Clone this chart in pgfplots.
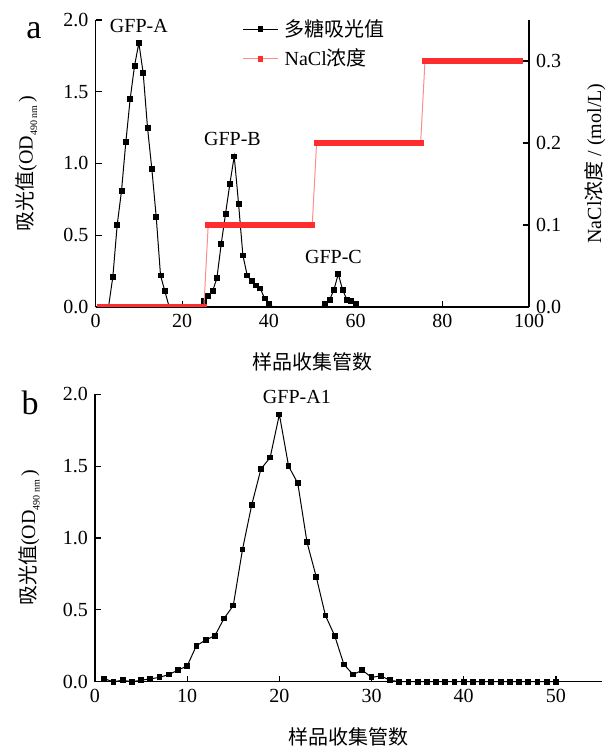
\documentclass[border=0pt]{standalone}
\usepackage{pgfplots}
\pgfplotsset{compat=1.18}
\usepackage{pgfplotstable}
\usepackage{fontspec}
\setmainfont{Liberation Serif}
\newfontfamily\cjk{Noto Sans CJK SC}
\definecolor{nacl}{RGB}{255,45,45}
\definecolor{nacllight}{RGB}{255,140,140}

% top panel, polysaccharide absorbance per tube (zeros carry the line only)
\pgfplotstableread{
x y
0 0
3 0
4 0.21
5 0.57
6 0.81
7 1.15
8 1.45
9 1.68
10 1.84
11 1.63
12 1.25
13 0.96
14 0.63
15 0.22
16 0.11
17 0
24 0
25 0.04
26 0.08
27 0.11
28 0.20
29 0.44
30 0.65
31 0.86
32 1.05
33 0.72
34 0.36
35 0.22
36 0.18
37 0.15
38 0.13
39 0.06
40 0.02
41 0
52 0
53 0.02
54 0.05
55 0.12
56 0.23
57 0.12
58 0.05
59 0.04
60 0.02
61 0
100 0
}\topdata

% bottom panel, GFP-A1
\pgfplotstableread{
x y
1 0.02
2 0.00
3 0.01
4 0.00
5 0.01
6 0.02
7 0.03
8 0.05
9 0.08
10 0.11
11 0.25
12 0.29
13 0.32
14 0.44
15 0.53
16 0.92
17 1.23
18 1.48
19 1.56
20 1.86
21 1.50
22 1.38
23 0.97
24 0.73
25 0.46
26 0.32
27 0.12
28 0.05
29 0.08
30 0.03
31 0.04
32 0.01
33 0
34 0
35 0
36 0
37 0
38 0
39 0
40 0
41 0
42 0
43 0
44 0
45 0
46 0
47 0
48 0
49 0
50 0
}\botdata

\begin{document}
\begin{tikzpicture}[font=\fontsize{10}{12}\selectfont]
\path[use as bounding box] (0,0) rectangle (303.5pt,373.5pt);
\pgfplotsset{
  every axis/.append style={
    scale only axis,
    clip=false,
    tick align=inside,
    major tick length=3pt,
    axis line style={line width=0.75pt, -},
    every tick/.style={line width=0.6pt, black},
    tick label style={font=\fontsize{10}{12}\selectfont, /pgf/number format/assume math mode=true},
    label style={font=\fontsize{10}{12}\selectfont},
  },
  onedec/.style={/pgf/number format/fixed, /pgf/number format/precision=1, /pgf/number format/fixed zerofill},
}

% ---- panel a, left axis
\begin{axis}[
  at={(47.75pt,220pt)}, anchor=south west,
  width=216.75pt, height=143.5pt,
  xmin=0, xmax=100, ymin=0, ymax=2,
  axis x line*=bottom, axis y line*=left,
  xtick={0,20,...,100}, ytick={0,0.5,1,1.5,2},
  yticklabel style={onedec},
  xlabel={\cjk 样品收集管数},
  xlabel style={at={(axis description cs:0.5,-0.193)}, anchor=center},
  ylabel={{\cjk 吸光值}(OD\raisebox{-0.5ex}{\fontsize{5}{6}\selectfont 490 nm}\,)},
  ylabel style={at={(axis description cs:-0.159,0.5)}, anchor=center},
]
\addplot[black, line width=0.5pt, forget plot] table {\topdata};
\addplot[black, only marks, mark=square*, mark size=1.2pt, restrict y to domain=0.005:5, forget plot] table {\topdata};
\node at (axis cs:10,1.958) {GFP-A};
\node at (axis cs:31.6,1.171) {GFP-B};
\node at (axis cs:54.9,0.35) {GFP-C};
\end{axis}

% ---- panel a, right axis (NaCl gradient)
\begin{axis}[
  at={(47.75pt,220pt)}, anchor=south west,
  width=216.75pt, height=143.5pt,
  xmin=0, xmax=100, ymin=0, ymax=0.35,
  clip=true, clip marker paths=true,
  axis x line=none, axis y line*=right,
  ytick={0,0.1,0.2,0.3},
  yticklabel style={onedec},
  ylabel={NaCl{\cjk 浓度} / (mol/L)},
  ylabel style={at={(axis description cs:1.152,0.5)}, anchor=center},
  legend cell align=left,
  legend style={draw=none, fill=none, at={(axis description cs:0.339,1.02)}, anchor=north west,
    inner sep=0pt, row sep=0pt, nodes={inner ysep=2.4pt, inner xsep=3.3pt}, font=\fontsize{10}{12}\selectfont},
]
\addlegendimage{black, line width=0.5pt, mark=square*, mark size=1.2pt}
\addlegendentry{\cjk 多糖吸光值}
\addplot[nacllight, line width=0.5pt, mark=square*, mark size=1.2pt, mark options={draw=nacl, fill=nacl}]
  table[row sep=\\] {
x y\\
1 0\\ 2 0\\ 3 0\\ 4 0\\ 5 0\\ 6 0\\ 7 0\\ 8 0\\ 9 0\\ 10 0\\
11 0\\ 12 0\\ 13 0\\ 14 0\\ 15 0\\ 16 0\\ 17 0\\ 18 0\\ 19 0\\ 20 0\\
21 0\\ 22 0\\ 23 0\\ 24 0\\ 25 0\\
26 0.1\\ 27 0.1\\ 28 0.1\\ 29 0.1\\ 30 0.1\\ 31 0.1\\ 32 0.1\\ 33 0.1\\ 34 0.1\\ 35 0.1\\
36 0.1\\ 37 0.1\\ 38 0.1\\ 39 0.1\\ 40 0.1\\ 41 0.1\\ 42 0.1\\ 43 0.1\\ 44 0.1\\ 45 0.1\\
46 0.1\\ 47 0.1\\ 48 0.1\\ 49 0.1\\ 50 0.1\\
51 0.2\\ 52 0.2\\ 53 0.2\\ 54 0.2\\ 55 0.2\\ 56 0.2\\ 57 0.2\\ 58 0.2\\ 59 0.2\\ 60 0.2\\
61 0.2\\ 62 0.2\\ 63 0.2\\ 64 0.2\\ 65 0.2\\ 66 0.2\\ 67 0.2\\ 68 0.2\\ 69 0.2\\ 70 0.2\\
71 0.2\\ 72 0.2\\ 73 0.2\\ 74 0.2\\ 75 0.2\\
76 0.3\\ 77 0.3\\ 78 0.3\\ 79 0.3\\ 80 0.3\\ 81 0.3\\ 82 0.3\\ 83 0.3\\ 84 0.3\\ 85 0.3\\
86 0.3\\ 87 0.3\\ 88 0.3\\ 89 0.3\\ 90 0.3\\ 91 0.3\\ 92 0.3\\ 93 0.3\\ 94 0.3\\ 95 0.3\\
96 0.3\\ 97 0.3\\ 98 0.3\\
};
\addlegendentry{NaCl{\cjk 浓度}}
\end{axis}

% ---- panel b
\begin{axis}[
  at={(47.5pt,32.65pt)}, anchor=south west,
  width=253.5pt, height=143.7pt,
  xmin=0, xmax=55, ymin=0, ymax=2,
  axis x line*=bottom, axis y line*=left,
  xtick={0,10,...,50}, ytick={0,0.5,1,1.5,2},
  yticklabel style={onedec},
  xlabel={\cjk 样品收集管数},
  xlabel style={at={(axis description cs:0.5,-0.192)}, anchor=center},
  ylabel={{\cjk 吸光值}(OD\raisebox{-0.5ex}{\fontsize{5}{6}\selectfont 490 nm}\,)},
  ylabel style={at={(axis description cs:-0.130,0.5)}, anchor=center},
]
\addplot[black, line width=0.5pt, mark=square*, mark size=1.2pt] table {\botdata};
\node at (axis cs:21.9,1.98) {GFP-A1};
\end{axis}

\node[font=\fontsize{17}{20}\selectfont] at (17pt,358pt) {a};
\node[font=\fontsize{17}{20}\selectfont] at (15pt,172pt) {b};
\end{tikzpicture}
\end{document}
